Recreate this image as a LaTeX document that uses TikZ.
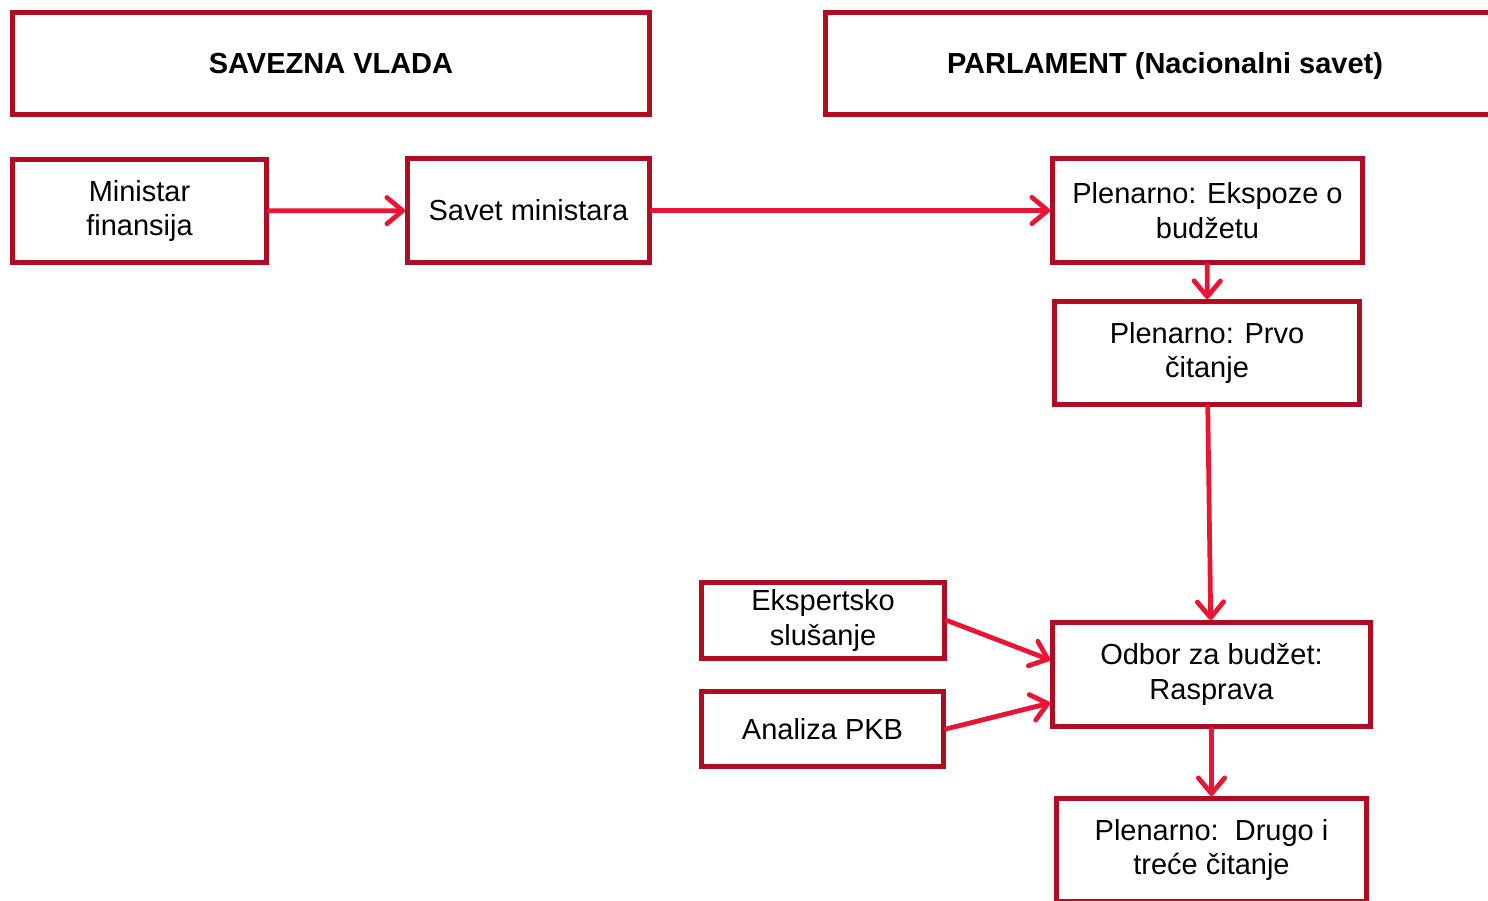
\documentclass[tikz,border=0pt]{standalone}
\usepackage{fontspec}
\setmainfont{Liberation Sans}
\usetikzlibrary{arrows.meta}
\usetikzlibrary{positioning}
\definecolor{boxred}{RGB}{176,12,36}
\definecolor{arrowred}{RGB}{234,20,52}
\tikzset{Box/.style 2 args={draw=boxred, line width=2.8pt, align=center, inner sep=0pt,
           minimum width=#1*0.02cm, minimum height=#2*0.02cm, font=\fontsize{16.5}{19.8}\selectfont},
         Title/.style={font=\fontsize{16.5}{19.8}\selectfont\bfseries, text height=11.8pt, text depth=0pt},
         Flow/.style={every edge/.style={draw=arrowred, line width=2.7pt, line cap=round,
           -{Straight Barb[length=9pt,width=15pt,line cap=round,line join=round]}}}}

\begin{document}
\begin{tikzpicture}[x=0.02cm, y=-0.02cm]
  \useasboundingbox (0,0) rectangle (1488,901);
    \node[Box={637}{102}, Title] (VL) at (331,63.5) {SAVEZNA VLADA};
    \node[Box={679}{102}, Title] (PA) at (1165,63.5) {PARLAMENT (Nacionalni savet)};
    \node[Box={254}{103}] (MF) at (139.5,211) {Ministar\\finansija};
    \node[Box={242}{104}] (SM) at (528.5,210.5) {Savet ministara};
    \node[Box={310}{104}] (EB) at (1207.5,210.5) {Plenarno: Ekspoze o\\budžetu};
    \node[Box={305}{103}] (PC) at (1207,353) {Plenarno: Prvo\\čitanje};
    \node[Box={243}{76}] (ES) at (823,620.5) {Ekspertsko\\slušanje};
    \node[Box={242}{75}] (AP) at (822.5,729) {Analiza PKB};
    \node[Box={318}{104}] (OB) at (1211.5,674.5) {Odbor za budžet:\\Rasprava};
    \node[Box={310}{103}] (DT) at (1211.5,850) {Plenarno:\ \ Drugo i\\treće čitanje};
    % ends of the two side arrows on the committee box
    \coordinate (OBin1) at ([yshift=0.29cm]OB.west);
    \coordinate (OBin2) at ([yshift=-0.57cm]OB.west);
  \path[Flow]
    (MF) edge (SM)
    (SM) edge (EB)
    (EB) edge (PC)
    (PC) edge (OB)
    (ES.east) edge (OBin1)
    (AP.east) edge (OBin2)
    (OB) edge (DT);
\end{tikzpicture}
\end{document}
